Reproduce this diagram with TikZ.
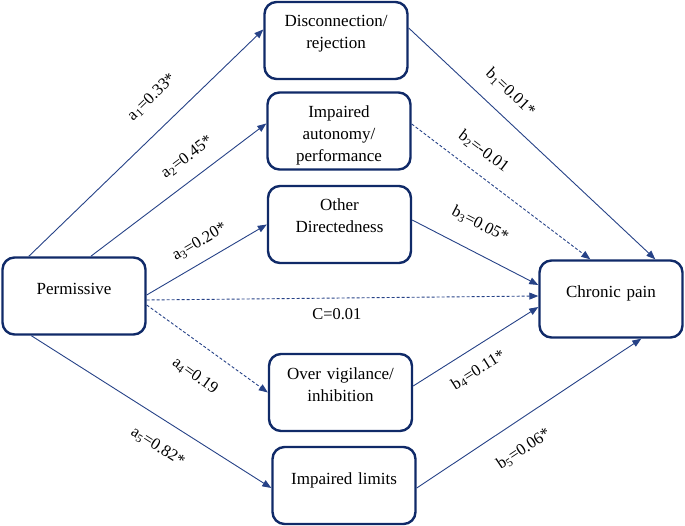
\documentclass[tikz,border=0pt]{standalone}
\usepackage{fontspec}
\setmainfont{Liberation Serif}
\usetikzlibrary{arrows.meta}
\definecolor{boxblue}{RGB}{16,42,104}
\definecolor{lineblue}{RGB}{38,66,135}

\begin{document}
\begin{tikzpicture}[x=1pt,y=-1pt,
  mybox/.style={draw=boxblue,line width=2.4pt,rounded corners=12pt,text width=139pt,
    inner sep=2pt,align=center,font=\fontsize{17}{22}\selectfont,text height=23pt,text depth=50pt},
  onebox/.style={mybox,text height=35pt,text depth=38pt},
  link/.style={lineblue,line width=0.9pt,-{Triangle[length=9pt,width=7pt]}},
  dlink/.style={link,dash pattern=on 3pt off 2pt},
  coef/.style={text=black,font=\fontsize{16.5}{18}\selectfont,sloped,inner sep=0pt}]
\useasboundingbox (0,0) rectangle (685,526);

% predictor and outcome
\node[onebox] (perm) at (74,296) {Permissive};
\node[onebox] (pain) at (611,299) {Chronic pain};
% mediators
\node[mybox] (disc) at (336,40.5) {Disconnection/\\rejection};
\node[mybox] (auto) at (339,131) {Impaired\\autonomy/\\performance};
\node[mybox] (other) at (339.5,224.5) {Other\\Directedness};
\node[mybox] (over) at (340.5,392.5) {Over vigilance/\\inhibition};
\node[onebox] (limits) at (344,485.5) {Impaired limits};

% a paths
\draw[link] ([xshift=27.5pt]perm.north west) -- node[coef,pos=0.61,above=21.5pt]{a\textsubscript{1}=0.33*} ([yshift=11pt]disc.west);
\draw[link] ([xshift=89.5pt]perm.north west) -- node[coef,pos=0.62,above=13.5pt]{a\textsubscript{2}=0.45*} ([yshift=7.5pt]auto.west);
\draw[link] ([yshift=1pt]perm.east) -- node[coef,pos=0.52,above=11.5pt]{a\textsubscript{3}=0.20*} (other.west);
\draw[dlink] ([yshift=-9pt]perm.east) -- node[coef,pos=0.54,below=22pt]{a\textsubscript{4}=0.19} (over.west);
\draw[link] ([xshift=30pt]perm.south west) -- node[coef,pos=0.585,below=19pt]{a\textsubscript{5}=0.82*} ([yshift=-2.5pt]limits.west);
% direct path
\draw[dlink] ([yshift=-4pt]perm.east) -- node[coef,pos=0.485,below=10pt]{C=0.01} ([yshift=3pt]pain.west);
% b paths
\draw[link] ([yshift=12.5pt]disc.east) -- node[coef,pos=0.35,above=15pt]{b\textsubscript{1}=0.01*} ([xshift=117pt]pain.north west);
\draw[dlink] ([yshift=7pt]auto.east) -- node[coef,pos=0.33,above=14pt]{b\textsubscript{2}=-0.01} ([xshift=52pt]pain.north west);
\draw[link] ([yshift=4.5pt]other.east) -- node[coef,pos=0.44,above=19.5pt]{b\textsubscript{3}=0.05*} ([yshift=14pt]pain.west);
\draw[link] ([yshift=6.5pt]over.east) -- node[coef,pos=0.43,below=14pt]{b\textsubscript{4}=0.11*} ([yshift=-8pt]pain.west);
\draw[link] ([yshift=-2.5pt]limits.east) -- node[coef,pos=0.41,below=19.5pt]{b\textsubscript{5}=0.06*} ([xshift=103pt]pain.south west);
\end{tikzpicture}
\end{document}
